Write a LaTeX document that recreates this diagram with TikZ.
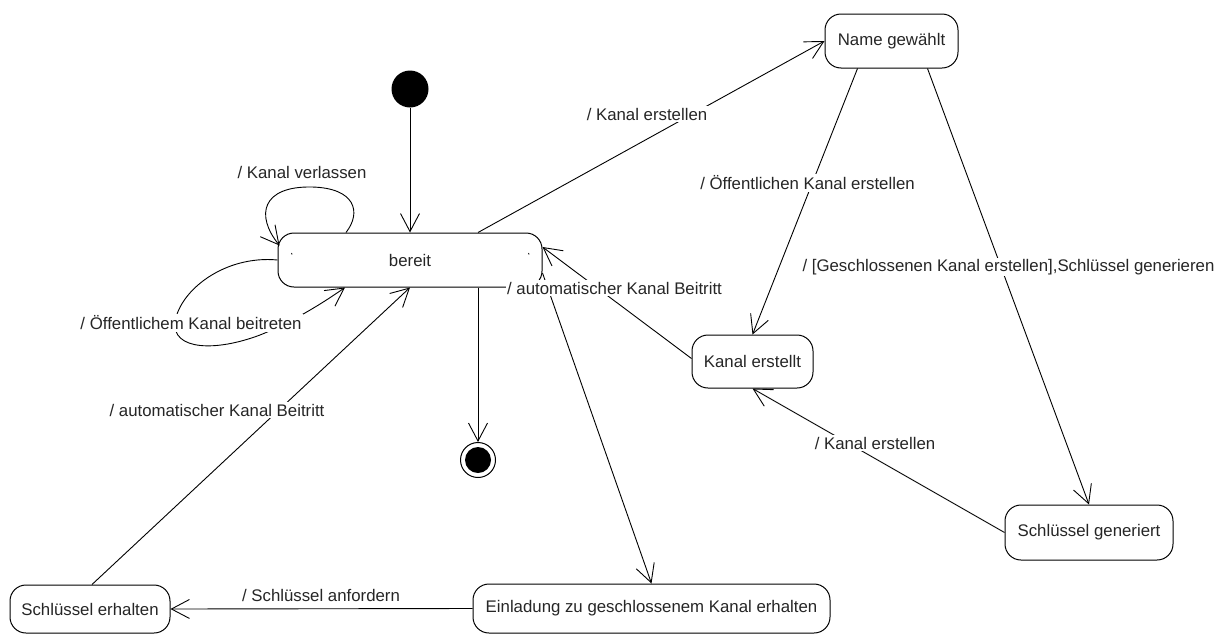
\documentclass[tikz,border=0pt]{standalone}
\usepackage{fontspec}
\setmainfont{Liberation Sans}
\usetikzlibrary{arrows.meta}
\begin{document}
\begin{tikzpicture}[x=1pt,y=-1pt,
  every node/.style={font=\fontsize{16.8}{20}\selectfont, text=black!85},
  state/.style={draw=black, line width=1pt, rounded corners=16pt, fill=white, inner sep=0pt},
  trans/.style={draw=black, line width=0.9pt, -{Straight Barb[length=18pt,width=19pt]}},
  lbl/.style={fill=white, inner sep=1.5pt},
]
\useasboundingbox (0,0) rectangle (1225,635);

% states
\node[state, minimum width=264pt, minimum height=54pt] (bereit) at (410,260) {bereit};
\node[state, minimum width=133pt, minimum height=54pt] (namegew) at (891.5,41) {Name gewählt};
\node[state, minimum width=121pt, minimum height=53pt] (kanalerst) at (752.5,361.5) {Kanal erstellt};
\node[state, minimum width=168pt, minimum height=55pt] (schlgen) at (1089,532.5) {Schlüssel generiert};
\node[state, minimum width=160pt, minimum height=48pt] (schlerh) at (90,609) {Schlüssel erhalten};
\node[state, minimum width=357pt, minimum height=49pt] (einl) at (651.5,608.5) {Einladung zu geschlossenem Kanal erhalten};

% small marks inside "bereit"
\draw[line width=0.8pt] ([xshift=14pt,yshift=7pt]bereit.west) -- ++(0.6,1.5);
\draw[line width=0.8pt] ([xshift=251pt,yshift=7pt]bereit.west) -- ++(0.6,1.5);

% pseudo states
\node[circle, fill=black, minimum size=37pt, inner sep=0pt] (init) at (410,89) {};
\node[circle, draw=black, line width=1pt, fill=white, minimum size=35pt, inner sep=0pt] (final) at (478,460) {};
\fill[black] (final.center) circle (13);

% transitions
\draw[trans] (init.south) -- (bereit.north);
\draw[trans] ([xshift=68pt]bereit.north) -- (namegew.west);
\draw[trans] ([xshift=-64pt]bereit.north)
  .. controls (362,212) and (355,188) .. (312,187)
  .. controls (262,186) and (255,215) .. ([xshift=2pt,yshift=-13pt]bereit.north west);
\draw[trans] (bereit.west)
  .. controls (225,255) and (180,290) .. (175,322)
  .. controls (172,350) and (215,352) .. (260,335)
  .. controls (290,323) and (320,305) .. ([xshift=-65pt]bereit.south);
\draw[trans] ([xshift=2pt]schlerh.north) -- (bereit.south);
\draw[trans] ([xshift=68pt]bereit.south) -- (final.north);
\draw[trans] ([xshift=-34pt]namegew.south) -- (kanalerst.north);
\draw[trans] ([xshift=36pt]namegew.south) -- (schlgen.north);
\draw[trans] ([yshift=3pt]kanalerst.west) -- ([yshift=13pt]bereit.east);
\draw[trans] ([yshift=-13pt]bereit.east) -- (einl.north);
\draw[trans] (schlgen.west) -- (kanalerst.south);
\draw[trans] (einl.west) -- (schlerh.east);

% transition labels
\node[lbl] (l1) at (647,114) {/ Kanal erstellen};
\node[lbl] (l2) at (302,172) {/ Kanal verlassen};
\node[lbl] (l3) at (191,323) {/ Öffentlichem Kanal beitreten};
\node[lbl] (l4) at (217,410) {/ automatischer Kanal Beitritt};
\node[lbl] (l5) at (614.5,288) {/ automatischer Kanal Beitritt};
\node[lbl] (l6) at (807.5,183) {/ Öffentlichen Kanal erstellen};
\node[lbl] (l7) at (1008.5,267) {/ [Geschlossenen Kanal erstellen],Schlüssel generieren};
\node[lbl] (l8) at (875,443) {/ Kanal erstellen};
\node[lbl] (l9) at (321,595) {/ Schlüssel anfordern};
\end{tikzpicture}
\end{document}
